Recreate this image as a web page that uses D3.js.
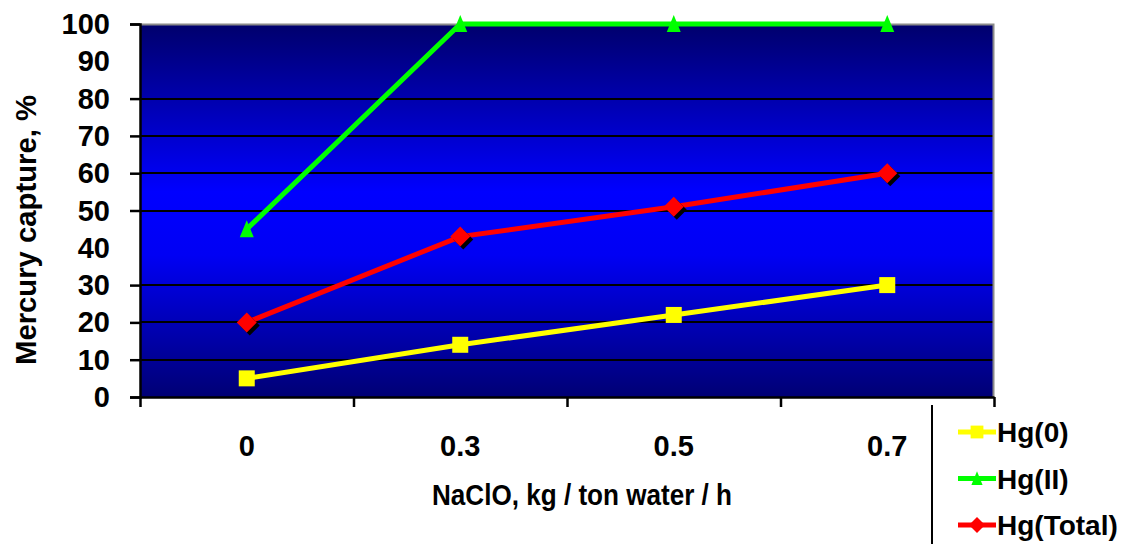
<!DOCTYPE html>
<html>
<head>
<meta charset="utf-8">
<script src="https://cdn.jsdelivr.net/npm/d3@7"></script>
<style>
body{margin:0;background:#fff;}
text{font-family:"Liberation Sans",Arial,sans-serif;font-weight:bold;fill:#000;}
</style>
</head>
<body>
<div id="chart-area"></div>
<script>
let categories=["0","0.3","0.5","0.7"];
let hg0=[5,14,22,30];
let hgII=[45,100,100,100];
let hgTotal=[20,43,51,60];
let yTicks=[0,10,20,30,40,50,60,70,80,90,100];
let gridValues=[10,20,30,50,60,70,80];  // 40 and 90 don't show in the original
let seriesNames=["Hg(0)","Hg(II)","Hg(Total)"];

let margin={top:24,left:140,right:144,bottom:147};
let W=1138,H=544;
let width=W-margin.left-margin.right;
let height=H-margin.top-margin.bottom;

let svg=d3.select("#chart-area").append('svg')
	.attr('width',W)
	.attr('height',H);

let defs=svg.append('defs');
let grad=defs.append('linearGradient')
	.attr('id','bg')
	.attr('x1',0).attr('y1',0).attr('x2',0).attr('y2',1);
grad.append('stop').attr('offset','0%').attr('stop-color','#00006c');
grad.append('stop').attr('offset','45%').attr('stop-color','#0000ff');
grad.append('stop').attr('offset','62%').attr('stop-color','#0000f4');
grad.append('stop').attr('offset','100%').attr('stop-color','#000074');

let g=svg.append('g')
	.attr("transform","translate("+margin.left+","+margin.top+")");

//---------SCALES--------------
let x=d3.scaleBand()
	.domain(categories)
	.range([0,width]);

let y=d3.scaleLinear()
	.domain([0,100])
	.range([height,0]);

//---------PLOT AREA-----------
g.append('rect')
	.attr('width',width)
	.attr('height',height)
	.attr('fill','url(#bg)');

g.selectAll('line.grid').data(gridValues).enter()
	.append('line')
	.attr('class','grid')
	.attr('x1',0).attr('x2',width)
	.attr('y1',d=>Math.round(y(d))).attr('y2',d=>Math.round(y(d)))
	.attr('stroke','#000')
	.attr('stroke-width',2)
	.attr('shape-rendering','crispEdges');

// gray border top and right
g.append('path')
	.attr('d','M0,0.5H'+(width-0.5)+'V'+height)
	.attr('fill','none')
	.attr('stroke','#8a8a8a')
	.attr('stroke-width',2);

//-------AXES------------------
let yAxis=d3.axisLeft(y)
	.tickValues(gridValues.concat([0,100]))
	.tickSize(10)
	.tickFormat('');
let yAxisGroup=g.append('g').attr('class','y-axis').call(yAxis);
yAxisGroup.select('.domain').attr('stroke-width',2.5);
yAxisGroup.selectAll('.tick line').attr('stroke-width',2.5);

g.selectAll('text.ylab').data(yTicks).enter()
	.append('text')
	.attr('class','ylab')
	.attr('x',-30)
	.attr('y',d=>y(d)+10)
	.attr('text-anchor','end')
	.attr('font-size','29px')
	.text(d=>d);

let xAxis=d3.axisBottom(d3.scaleLinear().domain([0,categories.length]).range([0,width]))
	.ticks(categories.length)
	.tickSize(10)
	.tickSizeOuter(0)
	.tickFormat('');
let xAxisGroup=g.append('g')
	.attr('class','x-axis')
	.attr("transform","translate(0,"+height+")")
	.call(xAxis);
xAxisGroup.select('.domain').attr('stroke-width',2.5);
xAxisGroup.selectAll('.tick line').attr('stroke-width',2.5);

g.selectAll('text.xlab').data(categories).enter()
	.append('text')
	.attr('class','xlab')
	.attr('x',d=>x(d)+x.bandwidth()/2)
	.attr('y',height+59)
	.attr('text-anchor','middle')
	.attr('font-size','29px')
	.text(d=>d);

//------LABELS----------------
g.append('text')
	.attr('x',width/2+15)
	.attr('y',height+108)
	.attr('text-anchor','middle')
	.attr('font-size','29px')
	.attr('textLength',300)
	.attr('lengthAdjust','spacingAndGlyphs')
	.text('NaClO, kg / ton water / h');

g.append('text')
	.attr('transform','rotate(-90)')
	.attr('x',-206)
	.attr('y',-104)
	.attr('text-anchor','middle')
	.attr('font-size','29px')
	.attr('textLength',270)
	.attr('lengthAdjust','spacingAndGlyphs')
	.text('Mercury capture, %');

//--------SERIES--------------
let series=[
	{name:seriesNames[0],values:hg0,color:'#ffff00',shape:'square'},
	{name:seriesNames[1],values:hgII,color:'#00ff00',shape:'triangle'},
	{name:seriesNames[2],values:hgTotal,color:'#ff0000',shape:'diamond'}
];

let cx=(d,i)=>x(categories[i])+x.bandwidth()/2;

let line=d3.line()
	.x((d,i)=>cx(d,i))
	.y(d=>y(d));

function drawMarker(sel,shape,color,px,py,shadow){
	if(shape==='square'){
		sel.append('rect')
			.attr('x',px-8).attr('y',py-8)
			.attr('width',16).attr('height',16)
			.attr('fill',color);
	}else if(shape==='triangle'){
		sel.append('path')
			.attr('d','M'+px+','+(py-9)+'L'+(px+7)+','+(py+8)+'L'+(px-7)+','+(py+8)+'Z')
			.attr('fill',color);
	}else{
		if(shadow){
			sel.append('path')
				.attr('d','M'+(px+3)+','+(py-7)+'L'+(px+13)+','+(py+3)+'L'+(px+3)+','+(py+13)+'L'+(px-7)+','+(py+3)+'Z')
				.attr('fill','#000');
		}
		sel.append('path')
			.attr('d','M'+px+','+(py-10)+'L'+(px+10)+','+py+'L'+px+','+(py+10)+'L'+(px-10)+','+py+'Z')
			.attr('fill',color);
	}
}

series.forEach(function(s){
	let sg=g.append('g');
	sg.append('path')
		.datum(s.values)
		.attr('d',line)
		.attr('fill','none')
		.attr('stroke',s.color)
		.attr('stroke-width',5);
	s.values.forEach(function(v,i){
		drawMarker(sg,s.shape,s.color,cx(v,i),y(v),true);
	});
});

//--------LEGEND--------------
svg.append('line')
	.attr('x1',932).attr('x2',932)
	.attr('y1',405).attr('y2',H)
	.attr('stroke','#000')
	.attr('stroke-width',2);

let legend=svg.append('g')
	.attr("transform","translate(958,432)");

series.forEach(function(s,index){
	let row=legend.append('g')
		.attr("transform","translate(0,"+index*46.5+")");
	row.append('line')
		.attr('x1',0).attr('x2',38)
		.attr('y1',0).attr('y2',0)
		.attr('stroke',s.color)
		.attr('stroke-width',5);
	let m=row.append('g').attr('transform','translate(19,0) scale(0.8)');
	drawMarker(m,s.shape,s.color,0,0,false);
	row.append('text')
		.attr('x',39)
		.attr('y',10)
		.attr('font-size','28px')
		.text(s.name);
});
</script>
</body>
</html>
